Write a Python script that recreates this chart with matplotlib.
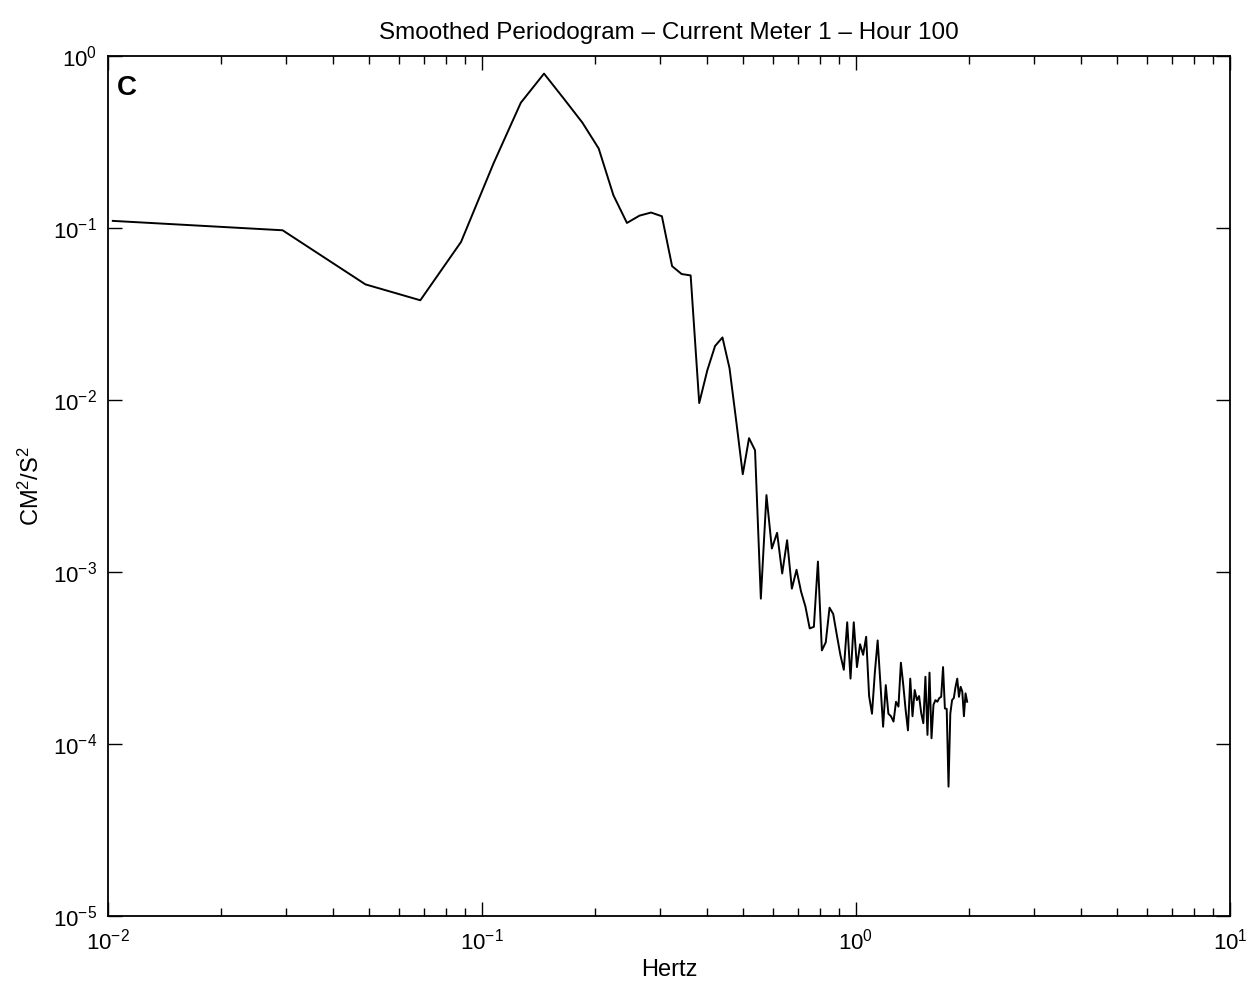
import matplotlib
matplotlib.use("Agg")
import matplotlib.pyplot as plt
from matplotlib.ticker import LogLocator, NullFormatter

plt.rcParams['font.family'] = ['Liberation Sans', 'DejaVu Sans']
plt.rcParams['mathtext.fontset'] = 'custom'
plt.rcParams['mathtext.rm'] = 'Liberation Sans'
plt.rcParams['mathtext.it'] = 'Liberation Sans:italic'
plt.rcParams['mathtext.bf'] = 'Liberation Sans:bold'

# Frequencies (Hz)
freq_hz = [0.0103, 0.0293, 0.0488, 0.0684, 0.0879, 0.1074, 0.1270, 0.1465, 0.1660, 0.1855,
           0.2051, 0.2246, 0.2441, 0.2637, 0.2832, 0.3027, 0.3223, 0.3418, 0.3613, 0.3809,
           0.4004, 0.4199, 0.4395, 0.4590, 0.4785, 0.4980, 0.5176, 0.5371, 0.5566, 0.5762,
           0.5957, 0.6152, 0.6348, 0.6543, 0.6738, 0.6934, 0.7129, 0.7324, 0.7520, 0.7715,
           0.7910, 0.8105, 0.8301, 0.8496, 0.8691, 0.8887, 0.9082, 0.9277, 0.9473, 0.9668,
           0.9863, 1.0059, 1.0254, 1.0449, 1.0645, 1.0840, 1.1035, 1.1230, 1.1426, 1.1621,
           1.1816, 1.2012, 1.2207, 1.2402, 1.2598, 1.2793, 1.2988, 1.3184, 1.3379, 1.3574,
           1.3770, 1.3965, 1.4160, 1.4355, 1.4551, 1.4746, 1.4941, 1.5137, 1.5332, 1.5527,
           1.5723, 1.5918, 1.6113, 1.6309, 1.6504, 1.6699, 1.6895, 1.7090, 1.7285, 1.7480,
           1.7676, 1.7871, 1.8066, 1.8262, 1.8457, 1.8652, 1.8848, 1.9043, 1.9238, 1.9434,
           1.9629, 1.9824]

# Spectral density (cm^2/s^2)
power = [0.11, 0.097, 0.047, 0.038, 0.083, 0.238, 0.535, 0.79, 0.56, 0.41,
         0.29, 0.155, 0.107, 0.118, 0.123, 0.117, 0.060, 0.054, 0.053, 0.0096,
         0.0149, 0.0206, 0.0231, 0.0153, 0.0075, 0.0037, 0.0060, 0.0051, 0.0007, 0.0028,
         0.00137, 0.00169, 0.00098, 0.00153, 0.00080, 0.00103, 0.00077, 0.00063, 0.00047, 0.00048,
         0.00115, 0.00035, 0.00039, 0.00062, 0.00057, 0.00043, 0.00033, 0.00027, 0.00051, 0.00024,
         0.00051, 0.00028, 0.00038, 0.00033, 0.00042, 0.00019, 0.00015, 0.00026, 0.00040, 0.000225,
         0.000126, 0.00022, 0.00015, 0.000145, 0.000135, 0.000176, 0.000165, 0.000297, 0.00022, 0.000158,
         0.00012, 0.00024, 0.000145, 0.000206, 0.00018, 0.00019, 0.000151, 0.000132, 0.000246, 0.000113,
         0.00026, 0.000108, 0.000169, 0.00018, 0.000176, 0.000185, 0.000188, 0.00028, 0.000161, 0.00016,
         0.0000565, 0.00015, 0.00018, 0.000185, 0.000215, 0.00024, 0.000188, 0.000215, 0.000202, 0.000145,
         0.000197, 0.000176]

title_text = "Smoothed Periodogram – Current Meter 1 – Hour 100"
xlabel_text = "Hertz"
ylabel_text = r"CM$^2$/S$^2$"
panel_label = "C"

fig = plt.figure(figsize=(12.52, 9.88), dpi=100)
ax = fig.add_axes([108/1252, 1-916/988, (1230-108)/1252, (916-56)/988])

ax.loglog(freq_hz, power, color='black', lw=1.4)
ax.set_xlim(1e-2, 1e1)
ax.set_ylim(1e-5, 1e0)

ax.xaxis.set_major_locator(LogLocator(base=10, numticks=10))
ax.xaxis.set_minor_locator(LogLocator(base=10, subs=range(2, 10), numticks=30))
ax.xaxis.set_minor_formatter(NullFormatter())
ax.yaxis.set_major_locator(LogLocator(base=10, numticks=10))
ax.yaxis.set_minor_locator(plt.NullLocator())

ax.tick_params(which='both', direction='in', top=True, right=True, labelsize=16, width=1)
ax.tick_params(which='major', length=10)
ax.tick_params(which='minor', length=6)
ax.tick_params(axis='x', pad=9)
ax.tick_params(axis='y', pad=8)
for s in ax.spines.values():
    s.set_linewidth(1.3)

ax.set_title(title_text, fontsize=17.5, pad=12)
ax.set_xlabel(xlabel_text, fontsize=17, labelpad=3)
ax.set_ylabel(ylabel_text, fontsize=17, labelpad=6)
ax.text(0.008, 0.978, panel_label, transform=ax.transAxes, fontsize=20,
        ha='left', va='top', fontweight='bold')

fig.savefig("out.png", dpi=100)
